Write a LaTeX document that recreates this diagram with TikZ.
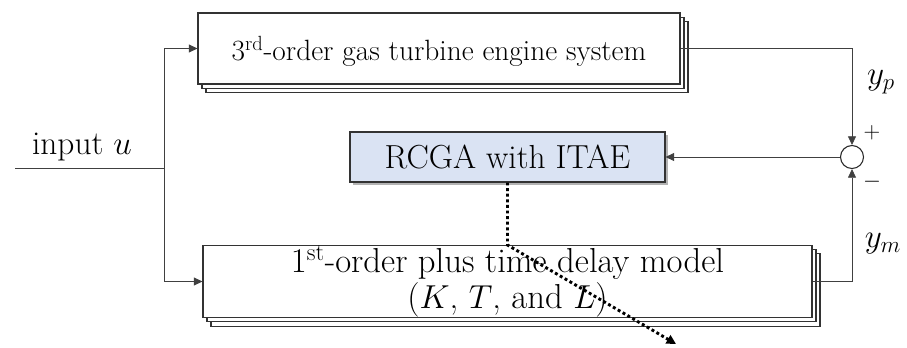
\documentclass[tikz,border=0pt]{standalone}
\usepackage{fontspec}
\usetikzlibrary{arrows.meta,shadows}
\begin{document}
\begin{tikzpicture}[x=0.75pt,y=-0.75pt,
  stackbox/.style={draw=black!80,line width=0.8pt,fill=white,align=center,
    double copy shadow={shadow xshift=3pt,shadow yshift=-3.2pt,draw=black!80,line width=0.8pt}},
  algbox/.style={draw=black!80,line width=0.8pt,fill={rgb,255:red,218;green,227;blue,243},
    drop shadow={shadow xshift=2pt,shadow yshift=-2pt,fill=black!50,opacity=0.6}},
  sumnode/.style={circle,draw=black!85,line width=0.8pt,fill=white,minimum size=17.25pt,inner sep=0pt},
  conn/.style={draw=black!75,line width=0.6pt},
  arr/.style={conn,-{Triangle[length=6.5pt,width=6pt]}},
  dotarr/.style={draw=black,line width=2.2pt,dotted,-{Triangle[length=7pt,width=7pt]}}
]
\useasboundingbox (0,0) rectangle (907,347);
\node[stackbox,minimum width=361.5pt,minimum height=53.25pt,text depth=0pt,font=\fontsize{22}{24}\selectfont] (top) at (439,48.5)
  {3\textsuperscript{rd}-order gas turbine engine system};
\node[stackbox,minimum width=456.75pt,minimum height=53.25pt,inner sep=0pt,font=\fontsize{26}{27.5}\selectfont] (bot) at (507.5,281.5)
  {1\textsuperscript{st}-order plus time delay model\\ ($K$, $T$, and $L$)};
\node[algbox,minimum width=236.25pt,minimum height=37.5pt,font=\fontsize{25}{28}\selectfont] (rcga) at (507.5,157) {RCGA with ITAE};
\node[sumnode] (sum) at (852,157) {};
\coordinate (in) at (15,168);
\coordinate (split) at (164,168);
\node[font=\fontsize{25}{28}\selectfont] (lblin) at (82,147) {input $u$};
\draw[conn] (in) -- (split);
\draw[arr] (split) |- (top.west);
\draw[arr] (split) |- (bot.west);
\draw[arr] (top.east) -| (sum.north);
\draw[arr] (bot.east) -| (sum.south);
\draw[arr] (sum.west) -- (rcga.east);
\node[font=\fontsize{26}{28}\selectfont] (yp) at (881,82) {$y_p$};
\node[font=\fontsize{26}{28}\selectfont] (ym) at (883,244) {$y_m$};
\node[font=\fontsize{19}{20}\selectfont] (plus) at (872,133) {$+$};
\node[font=\fontsize{19}{20}\selectfont] (minus) at (872,182) {$-$};
\coordinate (dbend) at (507.5,245);
\coordinate (dend) at (676,344);
\draw[dotarr] (rcga.south) -- (dbend) -- (dend);
\end{tikzpicture}
\end{document}
